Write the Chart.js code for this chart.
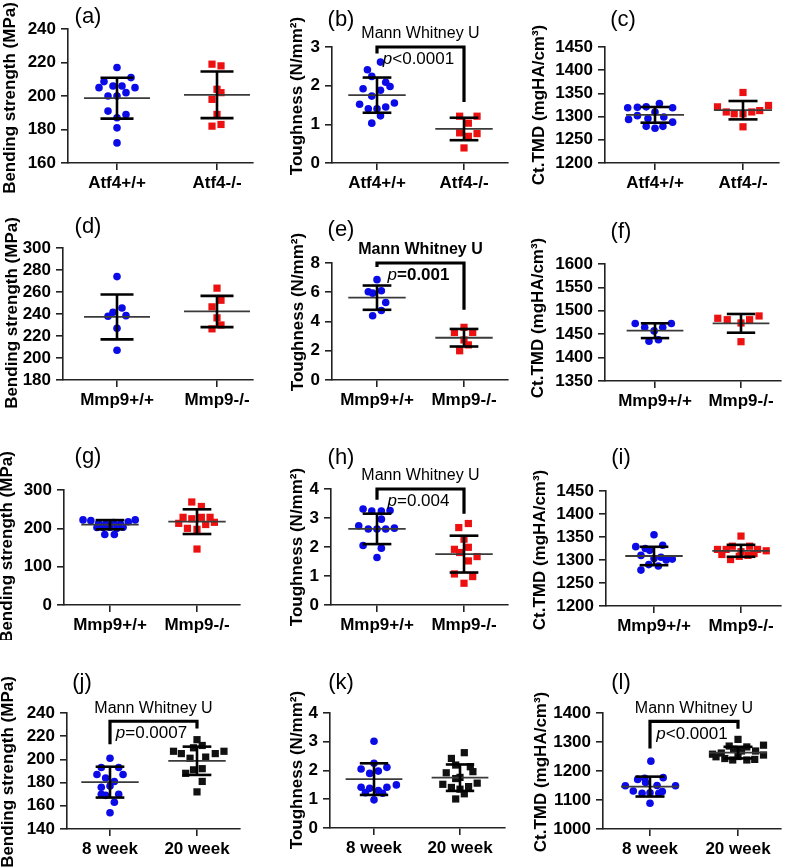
<!DOCTYPE html>
<html>
<head>
<meta charset="utf-8">
<script src="https://cdn.jsdelivr.net/npm/chart.js@4.4.1/dist/chart.umd.min.js"></script>
<style>
html, body { margin: 0; padding: 0; background: #fff; overflow: hidden; }
#wrap { position: relative; width: 789px; height: 868px; overflow: hidden; }
#wrap canvas { position: absolute; }
</style>
</head>
<body>
<div id="wrap"></div>
<script>
// categories
var catsAtf4 = ['Atf4+/+', 'Atf4-/-'];
var catsMmp9 = ['Mmp9+/+', 'Mmp9-/-'];
var catsAge = ['8 week', '20 week'];

// (a) bending strength, Atf4
var aWT = [217, 211, 208.6, 205, 206, 206, 205, 200, 200, 202, 191, 189, 187, 181, 172];
var aWTdx = [0, 0.14, -0.13, -0.18, -0.04, 0.05, 0.18, -0.09, 0, 0.09, -0.09, 0.09, 0, 0, 0];
var aKO = [219, 218, 204, 202, 198, 189, 183, 182];
var aKOdx = [-0.05, 0.04, 0, 0.04, -0.05, 0, 0.04, -0.05];
var aMean = [198.7, 200.7], aSD = [12.2, 13.9];

// (b) toughness, Atf4
var bWT = [2.61, 2.41, 2.24, 2.09, 1.92, 1.98, 1.88, 1.73, 1.55, 1.52, 1.45, 1.4, 1.4, 1.22, 1.03];
var bWTdx = [0.04, -0.11, -0.06, 0.1, -0.16, 0.15, 0.04, -0.06, 0.2, -0.2, 0.1, -0.1, 0, 0.04, -0.06];
var bKO = [1.21, 1.21, 1.03, 0.78, 0.76, 0.69, 0.39];
var bKOdx = [-0.05, 0.15, 0.05, -0.05, 0.15, 0.05, 0];
var bMean = [1.755, 0.88], bSD = [0.455, 0.29];
var bBracket = [3, 2.83, 1.58];

// (c) Ct.TMD, Atf4
var cWT = [1319, 1320, 1321, 1328, 1319, 1310, 1302, 1294, 1299, 1288, 1279, 1275, 1279, 1296];
var cWTdx = [-0.31, -0.2, -0.1, 0.05, 0.2, 0, -0.2, -0.3, 0.1, 0.2, -0.1, 0, 0.09, -0.08];
var cKO = [1352, 1321, 1310, 1306, 1306, 1310, 1313, 1324, 1278];
var cKOdx = [0, -0.29, -0.19, -0.1, 0, 0.1, 0.19, 0.29, 0];
var cMean = [1303.8, 1313.8], cSD = [16.9, 19.8];

// (d) bending strength, Mmp9
var dWT = [274, 245.5, 241.5, 238, 238.5, 227, 207];
var dWTdx = [0, 0.05, -0.04, -0.09, 0.09, 0, 0];
var dKO = [263.5, 252.5, 246.5, 236.5, 230, 226.5];
var dKOdx = [0, 0.04, -0.05, 0, 0.04, -0.05];
var dMean = [237.3, 242.3], dSD = [20.4, 14.2];

// (e) toughness, Mmp9
var eWT = [6.86, 6.03, 5.94, 6.1, 5.3, 4.75, 4.39];
var eWTdx = [0, -0.1, -0.05, 0.05, 0.1, 0.05, -0.05];
var eKO = [3.25, 3.6, 3.25, 2.74, 2.4, 2.0];
var eKOdx = [-0.11, 0, 0.1, 0, 0.05, -0.05];
var eMean = [5.63, 2.89], eSD = [0.83, 0.6];
var eBracket = [8, 7.73, 4.8];

// (f) Ct.TMD, Mmp9
var fWT = [1473, 1473, 1465, 1465, 1457, 1435, 1438];
var fWTdx = [-0.23, 0.19, -0.12, 0.09, -0.01, -0.07, 0.04];
var fKO = [1484, 1481, 1474, 1481, 1489, 1434];
var fKOdx = [-0.27, -0.16, 0, 0.1, 0.21, 0];
var fMean = [1457.5, 1473.2], fSD = [15.8, 20];

// (g) bending strength, Mmp9 (second cohort)
var gWT = [222, 220, 213, 211, 215, 211, 217, 222, 202, 202, 203, 200, 203, 184, 184];
var gWTdx = [-0.31, -0.22, -0.13, -0.05, 0.04, 0.12, 0.21, 0.29, -0.15, -0.08, 0, 0.08, 0.15, -0.06, 0.05];
var gKO = [268.7, 257, 228.7, 225, 228.7, 228.7, 213, 215.7, 210, 200, 197.4, 146];
var gKOdx = [-0.06, 0.05, -0.16, -0.06, 0.05, 0.15, -0.21, 0.2, 0.1, -0.11, 0, 0];
var gMean = [209.5, 217.4], gSD = [12, 32.2];

// (h) toughness, Mmp9 (second cohort)
var hWT = [3.31, 3.24, 3.24, 3.26, 2.96, 2.73, 2.62, 2.62, 2.62, 2.65, 2.05, 1.96, 1.64];
var hWTdx = [-0.16, -0.06, 0.05, 0.15, 0.05, -0.21, -0.1, 0, 0.1, 0.2, -0.16, 0.05, 0];
var hKO = [2.81, 2.67, 2.27, 1.92, 1.99, 1.67, 1.81, 1.52, 1.07, 0.98, 0.75];
var hKOdx = [0.05, -0.06, 0, -0.11, 0.05, 0.15, -0.05, 0.05, -0.11, 0.1, 0];
var hMean = [2.625, 1.755], hSD = [0.525, 0.635];
var hBracket = [4, 3.63, 3.15];

// (i) Ct.TMD, Mmp9 (second cohort)
var iWT = [1355, 1332, 1329, 1325, 1321, 1310, 1306, 1302, 1303, 1300, 1290, 1287, 1278];
var iWTdx = [0, 0.1, -0.21, -0.1, -0.05, -0.15, 0.08, 0.21, 0, 0.14, -0.06, 0.05, -0.15];
var iKO = [1352, 1330, 1330, 1323, 1323, 1323, 1320, 1318, 1312, 1310, 1308, 1301, 1314];
var iKOdx = [0, -0.1, 0.1, -0.27, -0.17, 0.19, 0.29, 0, -0.22, 0.08, -0.02, -0.12, 0.15];
var iMean = [1308.7, 1320], iSD = [20, 13];

// (j) bending strength by age
var jYoung = [201, 193, 193, 187, 187, 184, 181, 177, 176, 170, 170, 169, 163, 154];
var jYoungDx = [0, -0.1, 0.1, -0.15, 0.15, -0.05, 0.05, 0, -0.1, -0.1, 0.1, -0.05, 0.05, 0];
var jOld = [217, 212, 210, 207, 205, 207, 205, 201, 202, 192, 191, 188, 181, 172];
var jOldDx = [0, 0.06, -0.04, -0.27, -0.18, 0.31, 0.21, -0.08, 0.1, 0.06, -0.04, -0.13, 0.06, 0];
var jMean = [180.4, 198.8], jSD = [13.3, 12.2];
var jBracket = [232.9, 213.1, 226.6];

// (k) toughness by age
var kYoung = [3.02, 2.25, 2.05, 2.11, 1.9, 1.98, 1.42, 1.5, 1.42, 1.38, 1.23, 1.3, 1.21, 0.98];
var kYoungDx = [0, 0, -0.15, 0.15, -0.05, 0.05, -0.15, 0.26, 0.15, -0.05, -0.1, 0.05, 0.1, 0];
var kOld = [2.62, 2.42, 2.19, 2.13, 1.92, 1.96, 1.76, 1.72, 1.52, 1.56, 1.41, 1.44, 1.35, 1.19, 1.01];
var kOldDx = [0.05, -0.1, -0.05, 0.12, -0.16, 0.15, 0, -0.05, -0.2, 0.2, -0.1, 0.1, 0, 0.05, -0.05];
var kMean = [1.7, 1.75], kSD = [0.55, 0.46];

// (l) Ct.TMD by age
var lYoung = [1234, 1171, 1175, 1177, 1160, 1149, 1149, 1131, 1123, 1123, 1129, 1125, 1089, 1150];
var lYoungDx = [0.01, -0.14, -0.06, 0.15, -0.05, -0.28, 0.29, -0.19, -0.09, 0.1, 0.14, 0, 0, 0.08];
var lOld = [1309, 1286, 1283, 1289, 1258, 1269, 1269, 1255, 1249, 1243, 1238, 1238, 1240, 1262, 1275, 1250];
var lOldDx = [0, -0.1, 0.1, 0.29, -0.29, 0.04, 0.2, 0.29, -0.25, -0.15, -0.06, 0.1, 0.19, -0.19, -0.05, 0];
var lMean = [1146.3, 1263.4], lSD = [34.3, 20];
var lBracket = [1371, 1278, 1346];

var BLUE = '#0b0be8', RED = '#ec1010', BLACK = '#111111';
var FONT = "'Liberation Sans', Arial, Helvetica, sans-serif";
var tBend = 'Bending strength (MPa)', tTough = 'Toughness (N/mm\u00B2)', tTmd = 'Ct.TMD (mgHA/cm\u00B3)';

var panels = [
  {key: 'a', cats: catsAtf4, g1: aWT, d1: aWTdx, g2: aKO, d2: aKOdx, mean: aMean, sd: aSD, c2: RED, title: tBend, y: [160, 240, 20]},
  {key: 'b', cats: catsAtf4, g1: bWT, d1: bWTdx, g2: bKO, d2: bKOdx, mean: bMean, sd: bSD, c2: RED, title: tTough, y: [0, 3, 1],
   bracket: bBracket, p: '<0.0001', bold: false},
  {key: 'c', cats: catsAtf4, g1: cWT, d1: cWTdx, g2: cKO, d2: cKOdx, mean: cMean, sd: cSD, c2: RED, title: tTmd, y: [1200, 1450, 50]},
  {key: 'd', cats: catsMmp9, g1: dWT, d1: dWTdx, g2: dKO, d2: dKOdx, mean: dMean, sd: dSD, c2: RED, title: tBend, y: [180, 300, 20]},
  {key: 'e', cats: catsMmp9, g1: eWT, d1: eWTdx, g2: eKO, d2: eKOdx, mean: eMean, sd: eSD, c2: RED, title: tTough, y: [0, 8, 2],
   bracket: eBracket, p: '=0.001', bold: true},
  {key: 'f', cats: catsMmp9, g1: fWT, d1: fWTdx, g2: fKO, d2: fKOdx, mean: fMean, sd: fSD, c2: RED, title: tTmd, y: [1350, 1600, 50]},
  {key: 'g', cats: catsMmp9, g1: gWT, d1: gWTdx, g2: gKO, d2: gKOdx, mean: gMean, sd: gSD, c2: RED, title: tBend, y: [0, 300, 100]},
  {key: 'h', cats: catsMmp9, g1: hWT, d1: hWTdx, g2: hKO, d2: hKOdx, mean: hMean, sd: hSD, c2: RED, title: tTough, y: [0, 4, 1],
   bracket: hBracket, p: '=0.004', bold: false},
  {key: 'i', cats: catsMmp9, g1: iWT, d1: iWTdx, g2: iKO, d2: iKOdx, mean: iMean, sd: iSD, c2: RED, title: tTmd, y: [1200, 1450, 50]},
  {key: 'j', cats: catsAge, g1: jYoung, d1: jYoungDx, g2: jOld, d2: jOldDx, mean: jMean, sd: jSD, c2: BLACK, title: tBend, y: [140, 240, 20],
   bracket: jBracket, p: '=0.0007', bold: false},
  {key: 'k', cats: catsAge, g1: kYoung, d1: kYoungDx, g2: kOld, d2: kOldDx, mean: kMean, sd: kSD, c2: BLACK, title: tTough, y: [0, 4, 1]},
  {key: 'l', cats: catsAge, g1: lYoung, d1: lYoungDx, g2: lOld, d2: lOldDx, mean: lMean, sd: lSD, c2: BLACK, title: tTmd, y: [1000, 1400, 100],
   bracket: lBracket, p: '<0.0001', bold: false}
];

// page layout of each panel (pixels on the page)
var boxes = {
  a: {col: 0, row: 0, axis: 68, t1: 117, t2: 217, end: 253, top: 29, bottom: 163, tx: 10, ty: 98, lx: 88, ly: 17},
  b: {col: 1, row: 0, axis: 332, t1: 377, t2: 464, end: 508, top: 47, bottom: 163, tx: 297, ty: 96, lx: 341, ly: 20},
  c: {col: 2, row: 0, axis: 605, t1: 655, t2: 743, end: 779, top: 47, bottom: 163, tx: 539, ty: 105, lx: 623, ly: 20},
  d: {col: 0, row: 1, axis: 63, t1: 117, t2: 217, end: 253, top: 248, bottom: 380, tx: 12, ty: 313, lx: 88, ly: 227},
  e: {col: 1, row: 1, axis: 332, t1: 377, t2: 464, end: 508, top: 263, bottom: 380, tx: 298, ty: 312, lx: 341, ly: 230},
  f: {col: 2, row: 1, axis: 605, t1: 655, t2: 741, end: 781, top: 264, bottom: 381, tx: 538, ty: 318, lx: 621, ly: 232},
  g: {col: 0, row: 2, axis: 64, t1: 110, t2: 197, end: 240, top: 490, bottom: 605, tx: 7, ty: 547, lx: 88, ly: 457},
  h: {col: 1, row: 2, axis: 331, t1: 377, t2: 464, end: 508, top: 489, bottom: 605, tx: 297, ty: 547, lx: 341, ly: 458},
  i: {col: 2, row: 2, axis: 606, t1: 654, t2: 741, end: 781, top: 491, bottom: 606, tx: 540, ty: 550, lx: 621, ly: 458},
  j: {col: 0, row: 3, axis: 67, t1: 110, t2: 197, end: 240, top: 713, bottom: 829, tx: 8, ty: 772, lx: 82, ly: 683},
  k: {col: 1, row: 3, axis: 330, t1: 374, t2: 460, end: 505, top: 713, bottom: 828, tx: 297, ty: 770, lx: 341, ly: 683},
  l: {col: 2, row: 3, axis: 603, t1: 650, t2: 738, end: 781, top: 713, bottom: 829, tx: 541, ty: 772, lx: 621, ly: 683}
};
var colLeft = [0, 263, 526], rowTop = [0, 205, 425, 640], rowH = [205, 220, 215, 228];

Chart.defaults.font.family = FONT;
Chart.defaults.color = '#000';

function seg(ctx, x1, y1, x2, y2) {
  ctx.beginPath(); ctx.moveTo(x1, y1); ctx.lineTo(x2, y2); ctx.stroke();
}

function points(vals, dx, c) {
  return vals.map(function(v, k) { return {x: c + dx[k], y: v}; });
}

var wrap = document.getElementById('wrap');

panels.forEach(function(pn) {
  var b = boxes[pn.key];
  var cx = colLeft[b.col] - 10, cy = rowTop[b.row], cw = 273, ch = rowH[b.row];
  var cv = document.createElement('canvas');
  cv.width = cw; cv.height = ch;
  cv.style.left = cx + 'px'; cv.style.top = cy + 'px';
  wrap.appendChild(cv);

  var sp = b.t2 - b.t1;
  var xMin = 1 - (b.t1 - b.axis) / sp, xMax = 2 + (b.end - b.t2) / sp;

  // mean + SD bars, significance bracket, titles
  var decor = {
    id: 'decor' + pn.key,
    afterDatasetsDraw: function(chart) {
      var ctx = chart.ctx, xs = chart.scales.x, ys = chart.scales.y;
      ctx.save();
      for (var i = 0; i < 2; i++) {
        var c = i + 1, m = pn.mean[i], s = pn.sd[i];
        var ym = ys.getPixelForValue(m), yt = ys.getPixelForValue(m + s), yb = ys.getPixelForValue(m - s);
        var xc = xs.getPixelForValue(c);
        ctx.strokeStyle = '#3a3a3a'; ctx.lineWidth = 1.8;
        seg(ctx, xs.getPixelForValue(c - 0.33), ym, xs.getPixelForValue(c + 0.33), ym);
        ctx.strokeStyle = '#000'; ctx.lineWidth = 2.6;
        seg(ctx, xc, yt, xc, yb);
        seg(ctx, xs.getPixelForValue(c - 0.165), yt, xs.getPixelForValue(c + 0.165), yt);
        seg(ctx, xs.getPixelForValue(c - 0.165), yb, xs.getPixelForValue(c + 0.165), yb);
      }
      if (pn.bracket) {
        var x1 = xs.getPixelForValue(1), x2 = xs.getPixelForValue(2);
        var yTop = ys.getPixelForValue(pn.bracket[0]);
        ctx.strokeStyle = '#000'; ctx.lineWidth = 3.2; ctx.lineJoin = 'miter'; ctx.lineCap = 'butt';
        ctx.beginPath();
        ctx.moveTo(x1, ys.getPixelForValue(pn.bracket[1]));
        ctx.lineTo(x1, yTop);
        ctx.lineTo(x2, yTop);
        ctx.lineTo(x2, ys.getPixelForValue(pn.bracket[2]));
        ctx.stroke();
        var mid = (x1 + x2) / 2;
        ctx.fillStyle = '#000';
        ctx.textBaseline = 'middle';
        ctx.textAlign = 'center';
        ctx.font = (pn.bold ? 'bold ' : '') + '16px ' + FONT;
        ctx.fillText('Mann Whitney U', mid, yTop - 13);
        var fp = 'italic 17px ' + FONT, fr = (pn.bold ? 'bold ' : '') + '17px ' + FONT;
        ctx.font = fp; var wp = ctx.measureText('p').width;
        ctx.font = fr; var wr = ctx.measureText(pn.p).width;
        var x0 = mid - 2 - (wp + wr) / 2;
        ctx.textAlign = 'left';
        ctx.font = fp; ctx.fillText('p', x0, yTop + 12.5);
        ctx.font = fr; ctx.fillText(pn.p, x0 + wp, yTop + 12.5);
      }
      ctx.restore();
    },
    afterDraw: function(chart) {
      var ctx = chart.ctx;
      ctx.save();
      ctx.fillStyle = '#000';
      ctx.textAlign = 'center';
      ctx.textBaseline = 'middle';
      ctx.font = '22px ' + FONT;
      ctx.fillText('(' + pn.key + ')', b.lx - cx, b.ly - cy);
      ctx.translate(b.tx - cx, b.ty - cy);
      ctx.rotate(-Math.PI / 2);
      ctx.font = 'bold 17px ' + FONT;
      ctx.fillText(pn.title, 0, 0);
      ctx.restore();
    }
  };

  new Chart(cv, {
    type: 'scatter',
    data: {
      datasets: [
        {data: points(pn.g1, pn.d1, 1), pointStyle: 'circle', pointRadius: 3.8,
         backgroundColor: BLUE, borderColor: BLUE, borderWidth: 0},
        {data: points(pn.g2, pn.d2, 2), pointStyle: 'rect', pointRadius: 5.1,
         backgroundColor: pn.c2, borderColor: pn.c2, borderWidth: 0}
      ]
    },
    options: {
      responsive: false,
      animation: false,
      events: [],
      layout: {padding: {left: 0, top: b.top - cy, right: cw - (b.end - cx), bottom: 0}},
      plugins: {legend: {display: false}, tooltip: {enabled: false}},
      scales: {
        x: {
          type: 'linear', position: 'bottom', min: xMin, max: xMax,
          afterBuildTicks: function(s) { s.ticks = [{value: 1}, {value: 2}]; },
          afterFit: function(s) { s.height = ch - (b.bottom - cy); },
          ticks: {
            callback: function(v, idx) { return pn.cats[idx]; },
            font: {size: 17, weight: 'bold'}, color: '#000', padding: 3,
            maxRotation: 0, autoSkip: false
          },
          grid: {drawOnChartArea: false, drawTicks: true, tickLength: 7, color: '#222', lineWidth: 1.6},
          border: {color: '#222', width: 1.6}
        },
        y: {
          min: pn.y[0], max: pn.y[1],
          afterFit: function(s) { s.width = b.axis - cx; },
          ticks: {
            stepSize: pn.y[2], autoSkip: false,
            callback: function(v) { return String(v); },
            font: {size: 17, weight: 'bold'}, color: '#000', padding: 5
          },
          grid: {drawOnChartArea: false, drawTicks: true, tickLength: 7, color: '#222', lineWidth: 1.6},
          border: {color: '#222', width: 1.6}
        }
      }
    },
    plugins: [decor]
  });
});
</script>
</body>
</html>
